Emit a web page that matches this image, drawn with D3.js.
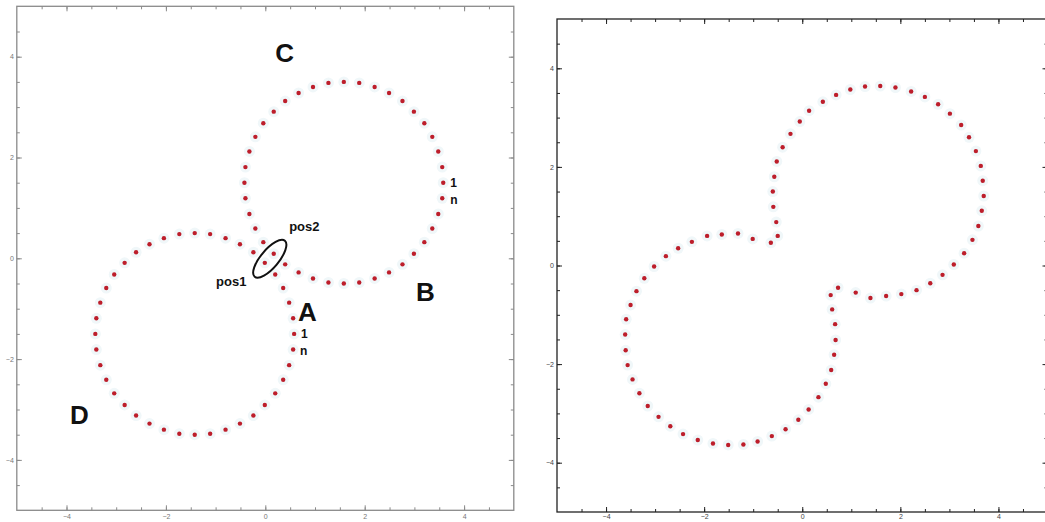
<!DOCTYPE html>
<html>
<head>
<meta charset="utf-8">
<script src="https://cdn.jsdelivr.net/npm/d3@7"></script>
<style>
  body { margin: 0; background: #fff; }
  svg { display: block; }
</style>
</head>
<body>
<div id="main"></div>
<script>
// points (data units)
var circleC = [
  [3.58, 1.50], [3.56, 1.81], [3.48, 2.12], [3.36, 2.41], [3.20, 2.68], [2.99, 2.91], [2.76, 3.12], [2.49, 3.28],
  [2.20, 3.40], [1.89, 3.48], [1.58, 3.50], [1.27, 3.48], [0.96, 3.40], [0.67, 3.28], [0.40, 3.12], [0.17, 2.91],
  [-0.04, 2.68], [-0.20, 2.41], [-0.32, 2.12], [-0.40, 1.81], [-0.42, 1.50], [-0.40, 1.19], [-0.32, 0.88], [-0.20, 0.59],
  [-0.04, 0.32], [0.17, 0.09], [0.40, -0.12], [0.67, -0.28], [0.96, -0.40], [1.27, -0.48], [1.58, -0.50], [1.89, -0.48],
  [2.20, -0.40], [2.49, -0.28], [2.76, -0.12], [2.99, 0.09], [3.20, 0.32], [3.36, 0.59], [3.48, 0.88], [3.56, 1.19]
];
var circleA = [
  [0.58, -1.50], [0.56, -1.19], [0.48, -0.88], [0.36, -0.59], [0.20, -0.32], [-0.01, -0.09], [-0.24, 0.12], [-0.51, 0.28],
  [-0.80, 0.40], [-1.11, 0.48], [-1.42, 0.50], [-1.73, 0.48], [-2.04, 0.40], [-2.33, 0.28], [-2.60, 0.12], [-2.83, -0.09],
  [-3.04, -0.32], [-3.20, -0.59], [-3.32, -0.88], [-3.40, -1.19], [-3.42, -1.50], [-3.40, -1.81], [-3.32, -2.12], [-3.20, -2.41],
  [-3.04, -2.68], [-2.83, -2.91], [-2.60, -3.12], [-2.33, -3.28], [-2.04, -3.40], [-1.73, -3.48], [-1.42, -3.50], [-1.11, -3.48],
  [-0.80, -3.40], [-0.51, -3.28], [-0.24, -3.12], [-0.01, -2.91], [0.20, -2.68], [0.36, -2.41], [0.48, -2.12], [0.56, -1.81]
];
var merged = [
  [0.14, 3.14], [-0.05, 2.92], [-0.24, 2.67], [-0.40, 2.40], [-0.52, 2.11], [-0.57, 1.80], [-0.60, 1.50], [-0.59, 1.19],
  [-0.53, 0.88], [-0.50, 0.60], [-0.64, 0.46], [-1.01, 0.54], [-1.31, 0.65], [-1.64, 0.63], [-1.94, 0.60], [-2.25, 0.48],
  [-2.53, 0.35], [-2.78, 0.19], [-3.02, -0.02],
  [-3.22, -0.26], [-3.38, -0.52], [-3.50, -0.80], [-3.59, -1.09], [-3.61, -1.40], [-3.60, -1.72], [-3.56, -2.02], [-3.46, -2.31],
  [-3.32, -2.59], [-3.15, -2.85], [-2.93, -3.07], [-2.69, -3.26], [-2.43, -3.42], [-2.13, -3.54], [-1.82, -3.61], [-1.51, -3.64],
  [-1.20, -3.63], [-0.91, -3.57], [-0.62, -3.46], [-0.34, -3.32], [-0.08, -3.13], [0.13, -2.92],
  [0.33, -2.67], [0.48, -2.40], [0.59, -2.12], [0.65, -1.81], [0.68, -1.51], [0.67, -1.19], [0.61, -0.89], [0.58, -0.60],
  [0.73, -0.45], [1.09, -0.55], [1.39, -0.66], [1.71, -0.62], [2.02, -0.58], [2.33, -0.50], [2.61, -0.36], [2.86, -0.19],
  [3.09, 0.02],
  [3.30, 0.25], [3.47, 0.52], [3.59, 0.80], [3.66, 1.11], [3.70, 1.41], [3.68, 1.72], [3.64, 2.02], [3.54, 2.32],
  [3.40, 2.60], [3.24, 2.85], [3.01, 3.08], [2.77, 3.27], [2.50, 3.42], [2.22, 3.53], [1.90, 3.61], [1.59, 3.64],
  [1.28, 3.63], [0.98, 3.57], [0.69, 3.46], [0.42, 3.32]
];

var majorTicks = [-4, -2, 0, 2, 4];
var minorTicks = d3.range(-4.5, 5, 0.5);

// text marks on the left panel: label, x, y (data units)
var bigLabels = [["C", 0.2, 3.9], ["A", 0.66, -1.24], ["B", 3.03, -0.85], ["D", -3.93, -3.28]];
var smallLabels = [["1", 3.72, 1.41], ["n", 3.72, 1.07], ["1", 0.72, -1.58], ["n", 0.7, -1.91], ["pos2", 0.48, 0.55], ["pos1", -0.99, -0.55]];

var svg = d3.select('#main').append('svg')
  .attr('width', 1045)
  .attr('height', 522);

function panel(xr, yr, axisColor, labelColor, pad) {
  var x = d3.scaleLinear().domain([-5, 5]).range(xr);
  var y = d3.scaleLinear().domain([-5, 5]).range(yr);
  var g = svg.append('g');

  g.append('rect')
    .attr('x', xr[0]).attr('y', yr[1])
    .attr('width', xr[1] - xr[0]).attr('height', yr[0] - yr[1])
    .attr('fill', 'none')
    .attr('stroke', axisColor)
    .attr('stroke-width', 1.3);

  var axes = [
    [d3.axisBottom(x), 'translate(0,' + yr[0] + ')', true, pad],
    [d3.axisTop(x), 'translate(0,' + yr[1] + ')', false, 3],
    [d3.axisLeft(y), 'translate(' + xr[0] + ',0)', true, 3],
    [d3.axisRight(y), 'translate(' + xr[1] + ',0)', false, 3]
  ];
  axes.forEach(function (a) {
    var minor = g.append('g').attr('transform', a[1])
      .call(a[0].tickValues(minorTicks).tickSize(-3).tickFormat(''));
    minor.select('.domain').remove();
    var mk = g.append('g').attr('transform', a[1])
      .call(a[0].tickValues(majorTicks).tickSize(-5).tickPadding(a[3]).tickFormat(a[2] ? d3.format('d') : ''));
    mk.select('.domain').remove();
    [minor, mk].forEach(function (s) {
      s.selectAll('line').attr('stroke', axisColor);
      s.selectAll('text')
        .attr('fill', labelColor)
        .style('font-family', 'Liberation Sans, Arial, sans-serif')
        .style('font-size', '7px');
    });
  });
  return { x: x, y: y, g: g };
}

function dots(p, data) {
  p.g.append('g').selectAll('circle.halo').data(data).enter()
    .append('circle')
    .attr('cx', d => p.x(d[0]))
    .attr('cy', d => p.y(d[1]))
    .attr('r', 5.5)
    .attr('fill', '#f0f7f9');
  p.g.append('g').selectAll('circle.dot').data(data).enter()
    .append('circle')
    .attr('cx', d => p.x(d[0]))
    .attr('cy', d => p.y(d[1]))
    .attr('r', 2.2)
    .attr('fill', '#bd1e2b');
}

var left = panel([16.8, 513.8], [510.3, 6.3], '#8a8a8a', '#777', 4);
var right = panel([557, 1047.5], [512, 19], '#222', '#444', 2);

dots(left, circleC);
dots(left, circleA);
dots(right, merged);

// the ellipse round pos1 / pos2
left.g.append('ellipse')
  .attr('transform', 'translate(' + left.x(0.09) + ',' + left.y(-0.01) + ') rotate(-50)')
  .attr('rx', 23.5)
  .attr('ry', 9)
  .attr('fill', 'none')
  .attr('stroke', '#111')
  .attr('stroke-width', 2);

left.g.selectAll('text.big').data(bigLabels).enter()
  .append('text')
  .attr('x', d => left.x(d[1]))
  .attr('y', d => left.y(d[2]))
  .style('font-family', 'Liberation Sans, Arial, sans-serif')
  .style('font-weight', 'bold')
  .style('font-size', '26px')
  .attr('fill', '#111')
  .text(d => d[0]);

left.g.selectAll('text.small').data(smallLabels).enter()
  .append('text')
  .attr('x', d => left.x(d[1]))
  .attr('y', d => left.y(d[2]))
  .style('font-family', 'Liberation Sans, Arial, sans-serif')
  .style('font-weight', 'bold')
  .style('font-size', d => d[0].length > 1 ? '13px' : '12px')
  .attr('fill', '#111')
  .text(d => d[0]);
</script>
</body>
</html>
